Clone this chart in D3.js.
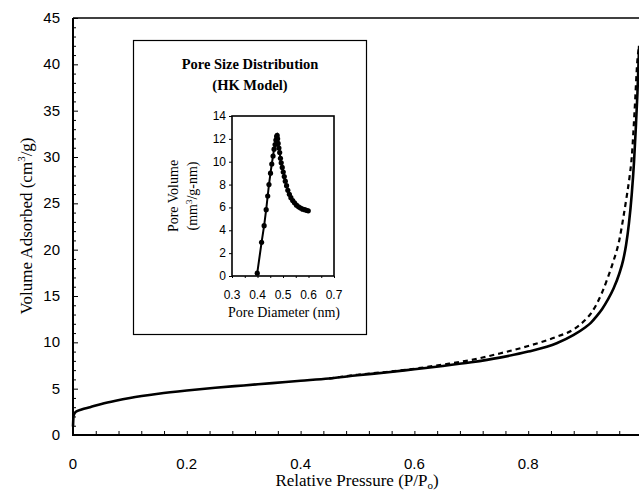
<!DOCTYPE html>
<html>
<head>
<meta charset="utf-8">
<script src="https://cdn.jsdelivr.net/npm/d3@7"></script>
<style>
  body { margin: 0; background: #fff; }
  svg { display: block; }
  .num { font-family: "Liberation Sans", Arial, sans-serif; }
  .ser { font-family: "Liberation Serif", "Times New Roman", serif; }
</style>
</head>
<body>
<svg id="drawing_region"></svg>
<script>
// main isotherm: adsorption (solid) and desorption (dashed)
const adsP = [0, 0.001, 0.005, 0.015, 0.03, 0.05, 0.075, 0.1, 0.15, 0.2, 0.25, 0.3, 0.35, 0.4, 0.45, 0.5, 0.55, 0.6, 0.65, 0.7, 0.75, 0.8, 0.85, 0.88, 0.9, 0.91, 0.92, 0.93, 0.94, 0.95, 0.96, 0.967, 0.972, 0.977, 0.982, 0.986, 0.989, 0.992, 0.995];
const adsV = [0.9, 2.1, 2.5, 2.75, 3.0, 3.35, 3.7, 4.0, 4.45, 4.8, 5.1, 5.35, 5.6, 5.85, 6.1, 6.45, 6.75, 7.1, 7.45, 7.85, 8.35, 9.0, 9.9, 10.8, 11.6, 12.1, 12.8, 13.6, 14.6, 15.8, 17.4, 18.9, 20.5, 22.8, 26.0, 29.5, 33.0, 36.9, 42.0];
const desP = [0.45, 0.5, 0.55, 0.6, 0.65, 0.7, 0.75, 0.8, 0.85, 0.88, 0.9, 0.91, 0.92, 0.93, 0.94, 0.95, 0.96, 0.967, 0.973, 0.978, 0.982, 0.987, 0.992, 0.995];
const desV = [6.1, 6.5, 6.8, 7.15, 7.6, 8.1, 8.8, 9.6, 10.6, 11.4, 12.4, 13.1, 14.1, 15.4, 17.0, 18.8, 21.0, 23.4, 25.7, 27.8, 30.0, 35.0, 40.5, 42.0];
const xTicks = [0, 0.2, 0.4, 0.6, 0.8];
const yTicks = [0, 5, 10, 15, 20, 25, 30, 35, 40, 45];

// inset: pore size distribution (HK model)
const poreD = [0.399, 0.416, 0.426, 0.434, 0.440, 0.445, 0.451, 0.456, 0.461, 0.465, 0.469, 0.472, 0.475, 0.477, 0.479, 0.481, 0.484, 0.487, 0.490, 0.493, 0.497, 0.501, 0.505, 0.509, 0.514, 0.519, 0.525, 0.531, 0.538, 0.545, 0.553, 0.561, 0.569, 0.577, 0.585, 0.592, 0.599];
const poreV = [0.25, 2.95, 4.4, 5.8, 7.0, 8.0, 9.0, 9.8, 10.5, 11.1, 11.5, 11.9, 12.2, 12.3, 12.0, 11.6, 11.2, 10.8, 10.3, 9.9, 9.5, 9.1, 8.7, 8.3, 7.9, 7.5, 7.15, 6.85, 6.6, 6.4, 6.2, 6.05, 5.95, 5.85, 5.8, 5.75, 5.7];
const insetXTicks = [0.3, 0.4, 0.5, 0.6, 0.7];
const insetYTicks = [0, 2, 4, 6, 8, 10, 12, 14];

const W = 639, H = 493;
const svg = d3.select('#drawing_region').attr('width', W).attr('height', H);

const x = d3.scaleLinear().domain([0, 1]).range([73, 642]);
const y = d3.scaleLinear().domain([0, 45]).range([435, 18]);

// minor + major ticks, pointing inward
const xAxis = d3.axisTop(x)
    .tickValues(d3.range(0, 1.0001, 0.04))
    .tickSize(4)
    .tickFormat('');
svg.append('g').attr('transform', `translate(0,${y(0)})`).call(xAxis)
    .call(g => g.select('.domain').remove())
    .call(g => g.selectAll('line').attr('stroke-width', 1));

const yAxis = d3.axisRight(y)
    .tickValues(d3.range(0, 46, 1))
    .tickSize(3)
    .tickFormat('');
svg.append('g').attr('transform', `translate(${x(0)},0)`).call(yAxis)
    .call(g => g.select('.domain').remove())
    .call(g => g.selectAll('line').attr('stroke-width', 1)
        .attr('x2', d => d % 5 === 0 ? 5 : 3));

// frame
svg.append('line').attr('x1', x(0)).attr('x2', W).attr('y1', y(0)).attr('y2', y(0))
    .attr('stroke', '#000').attr('stroke-width', 2.2);
svg.append('line').attr('x1', x(0)).attr('x2', x(0)).attr('y1', y(0) + 1).attr('y2', y(45))
    .attr('stroke', '#000').attr('stroke-width', 2);
svg.append('line').attr('x1', x(0)).attr('x2', W).attr('y1', y(45)).attr('y2', y(45))
    .attr('stroke', '#000').attr('stroke-width', 1.6);

// tick labels
svg.selectAll('.xlab').data(xTicks).join('text')
    .attr('class', 'num')
    .attr('x', d => x(d)).attr('y', 469)
    .attr('text-anchor', 'middle').attr('font-size', 15)
    .text(d => d === 0 ? '0' : d3.format('.1f')(d));

svg.selectAll('.ylab').data(yTicks).join('text')
    .attr('class', 'num')
    .attr('x', 60).attr('y', d => y(d) + 5)
    .attr('text-anchor', 'end').attr('font-size', 15)
    .text(d => d);

// axis titles
const xt = svg.append('text').attr('class', 'ser')
    .attr('x', 357).attr('y', 486).attr('text-anchor', 'middle').attr('font-size', 17);
xt.append('tspan').text('Relative Pressure (P/P');
xt.append('tspan').attr('font-size', 11).attr('dy', 3).text('o');
xt.append('tspan').attr('dy', -3).text(')');

const yt = svg.append('text').attr('class', 'ser')
    .attr('transform', 'translate(32,226) rotate(-90)')
    .attr('text-anchor', 'middle').attr('font-size', 17);
yt.append('tspan').text('Volume Adsorbed (cm');
yt.append('tspan').attr('font-size', 11).attr('dy', -7).text('3');
yt.append('tspan').attr('dy', 7).text('/g)');

// curves
const adsData = adsP.map((p, i) => ({p: p, v: adsV[i]}));
const desData = desP.map((p, i) => ({p: p, v: desV[i]}));
const line = d3.line().x(d => x(d.p)).y(d => y(d.v)).curve(d3.curveMonotoneX);

svg.append('path').datum(desData)
    .attr('d', line).attr('fill', 'none')
    .attr('stroke', '#000').attr('stroke-width', 2.2)
    .attr('stroke-dasharray', '5,4');
svg.append('path').datum(adsData)
    .attr('d', line).attr('fill', 'none')
    .attr('stroke', '#000').attr('stroke-width', 2.6);

// ---------- inset ----------
svg.append('rect').attr('x', 133.5).attr('y', 40.5).attr('width', 233).attr('height', 294)
    .attr('fill', '#fff').attr('stroke', '#000').attr('stroke-width', 1.2);

svg.append('text').attr('class', 'ser')
    .attr('x', 250).attr('y', 69).attr('text-anchor', 'middle')
    .attr('font-size', 14.5).attr('font-weight', 'bold')
    .text('Pore Size Distribution');
svg.append('text').attr('class', 'ser')
    .attr('x', 250).attr('y', 90).attr('text-anchor', 'middle')
    .attr('font-size', 14.5).attr('font-weight', 'bold')
    .text('(HK Model)');

const ix = d3.scaleLinear().domain([0.3, 0.7]).range([232, 334]);
const iy = d3.scaleLinear().domain([0, 14]).range([276, 116]);

const ixAxis = d3.axisBottom(ix).tickValues(d3.range(0.3, 0.7001, 0.05)).tickSize(2).tickFormat('');
svg.append('g').attr('transform', `translate(0,${iy(0)})`).call(ixAxis)
    .call(g => g.select('.domain').remove());
const iyAxis = d3.axisLeft(iy).tickValues(insetYTicks).tickSize(3).tickFormat('');
svg.append('g').attr('transform', `translate(${ix(0.3)},0)`).call(iyAxis)
    .call(g => g.select('.domain').remove());

svg.append('rect').attr('x', ix(0.3)).attr('y', iy(14))
    .attr('width', ix(0.7) - ix(0.3)).attr('height', iy(0) - iy(14))
    .attr('fill', 'none').attr('stroke', '#000').attr('stroke-width', 1.6);

svg.selectAll('.ixlab').data(insetXTicks).join('text')
    .attr('class', 'num')
    .attr('x', d => ix(d)).attr('y', 299)
    .attr('text-anchor', 'middle').attr('font-size', 12)
    .text(d => d3.format('.1f')(d));
svg.selectAll('.iylab').data(insetYTicks).join('text')
    .attr('class', 'num')
    .attr('x', 226).attr('y', d => iy(d) + 4)
    .attr('text-anchor', 'end').attr('font-size', 12)
    .text(d => d);

svg.append('text').attr('class', 'ser')
    .attr('x', 284).attr('y', 317).attr('text-anchor', 'middle').attr('font-size', 14)
    .text('Pore Diameter (nm)');

svg.append('text').attr('class', 'ser')
    .attr('transform', 'translate(178,196) rotate(-90)')
    .attr('text-anchor', 'middle').attr('font-size', 14)
    .text('Pore Volume');
const iyt = svg.append('text').attr('class', 'ser')
    .attr('transform', 'translate(197,196) rotate(-90)')
    .attr('text-anchor', 'middle').attr('font-size', 14);
iyt.append('tspan').text('(mm');
iyt.append('tspan').attr('font-size', 9).attr('dy', -5).text('3');
iyt.append('tspan').attr('dy', 5).text('/g-nm)');

const poreData = poreD.map((d, i) => ({d: d, v: poreV[i]}));
svg.append('path').datum(poreData)
    .attr('d', d3.line().x(d => ix(d.d)).y(d => iy(d.v)))
    .attr('fill', 'none').attr('stroke', '#000').attr('stroke-width', 2);
svg.selectAll('.pt').data(poreData).join('circle')
    .attr('cx', d => ix(d.d)).attr('cy', d => iy(d.v))
    .attr('r', 2.6).attr('fill', '#000');
</script>
</body>
</html>
